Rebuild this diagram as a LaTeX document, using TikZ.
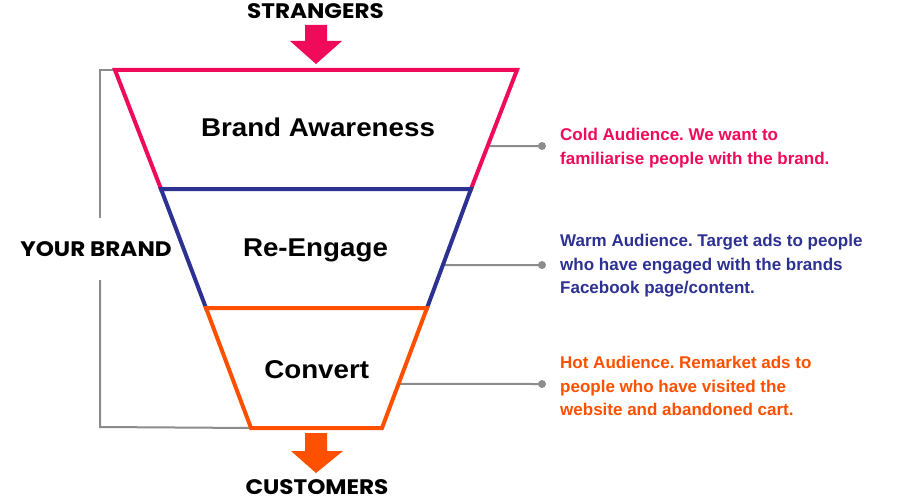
\documentclass[tikz,border=0pt]{standalone}
\usepackage{fontspec}
\usetikzlibrary{calc}
\setmainfont{Liberation Sans}
\newfontfamily\labfont{Liberation Sans}[FakeStretch=1.08]
\newfontfamily\geofont{Poppins}[FakeStretch=1.1]
\definecolor{fpink}{RGB}{240,10,90}
\definecolor{fblue}{RGB}{45,49,146}
\definecolor{forange}{RGB}{255,80,0}
\definecolor{fgray}{RGB}{140,140,140}
\begin{document}
\frenchspacing
\begin{tikzpicture}[x=1pt,y=-1pt,
  edge/.style={line width=4pt,line cap=rect,line join=miter},
  bracket/.style={fgray,line width=2pt},
  dotnode/.style={circle,fill=fgray,inner sep=0pt,minimum size=8pt},
  stagelabel/.style={anchor=base,inner sep=0pt,font=\labfont\bfseries\fontsize{25.7}{30}\selectfont},
  note/.style={anchor=north west,inner sep=0pt,align=left,font=\bfseries\fontsize{17}{23.6}\selectfont},
  caplabel/.style={anchor=base,inner sep=0pt,font=\geofont\bfseries\fontsize{21}{24}\selectfont}]
\useasboundingbox (0,0) rectangle (902,500);
\fill[white] (0,0) rectangle (902,500);
% funnel corners
\coordinate (t1) at (115,70);  \coordinate (t2) at (517,70);
\coordinate (m1) at (161,189); \coordinate (m2) at (471,189);
\coordinate (n1) at (206,308); \coordinate (n2) at (427,308);
\coordinate (b1) at (251,428); \coordinate (b2) at (382,428);
% gray bracket
\draw[bracket] (t1) -- (100,70) -- (100,218);
\draw[bracket] (100,280) -- (100,427) -- (b1);
% connectors
\coordinate (c1) at ($(t2)!0.639!(m2)$);
\coordinate (c2) at ($(m2)!0.639!(n2)$);
\coordinate (c3) at ($(n2)!0.633!(b2)$);
\node[dotnode] (d1) at (542,146) {};
\node[dotnode] (d2) at (542,265) {};
\node[dotnode] (d3) at (542,384) {};
\draw[bracket] (c1) -- (d1.center);
\draw[bracket] (c2) -- (d2.center);
\draw[bracket] (c3) -- (d3.center);
% funnel
\draw[edge,fpink] (m1) -- (t1) -- (t2) -- (m2);
\draw[edge,fblue] (n1) -- (m1) -- (m2) -- (n2);
\draw[edge,forange] (n1) -- (b1) -- (b2) -- (n2) -- cycle;
% arrows
\fill[fpink] (305,25) -- (327,25) -- (327,41) -- (342,41) -- (316,64) -- (290,41) -- (305,41) -- cycle;
\fill[forange] (305,433) -- (327,433) -- (327,451) -- (343,451) -- (316,473) -- (291,451) -- (305,451) -- cycle;
% labels
\node[caplabel] (strangers) at (315.5,18.7) {STRANGERS};
\node[caplabel] (customers) at (317,494) {CUSTOMERS};
\node[caplabel] (yourbrand) at (96,256.5) {YOUR BRAND};
\node[stagelabel] (aware) at (318,136.7) {Brand Awareness};
\node[stagelabel] (engage) at (315.5,256.7) {Re-Engage};
\node[stagelabel] (convert) at (316.7,378.3) {Convert};
\node[note,text=fpink] (cold) at (560,128.3) {Cold Audience. We want to\\familiarise people with the brand.};
\node[note,text=fblue] (warm) at (560,234) {Warm Audience. Target ads to people\\who have engaged with the brands\\Facebook page/content.};
\node[note,text=forange] (hot) at (560,356) {Hot Audience. Remarket ads to\\people who have visited the\\website and abandoned cart.};
\end{tikzpicture}
\end{document}
